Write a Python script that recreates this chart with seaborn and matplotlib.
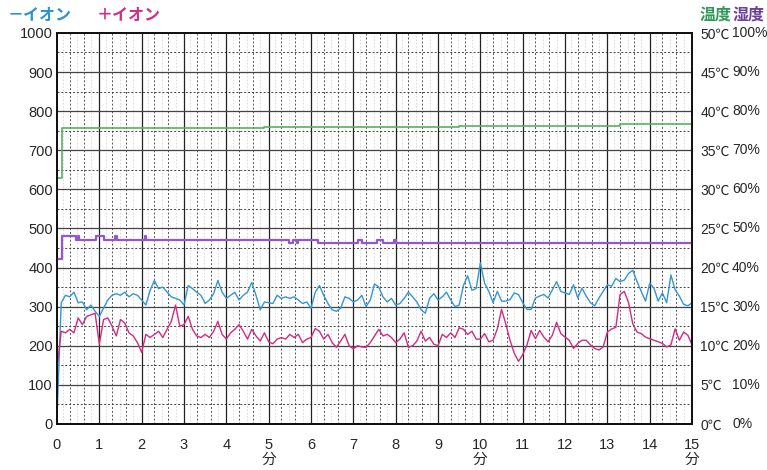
import numpy as np
import pandas as pd
import matplotlib
matplotlib.use("Agg")
import matplotlib.pyplot as plt
import matplotlib.transforms as mtransforms
import seaborn as sns

# ion counts sampled every 0.1 minute (0 .. 15 min)
SAMPLE_STEP = 0.1
minus_ion = [
    15, 310, 329, 325, 337, 310, 312, 292, 304, 288,
    275, 296, 317, 329, 333, 329, 337, 325, 333, 329,
    317, 304, 342, 367, 346, 350, 337, 325, 321, 317,
    304, 354, 346, 337, 329, 308, 317, 333, 367, 337,
    321, 329, 337, 317, 329, 337, 362, 329, 292, 312,
    310, 308, 329, 321, 325, 321, 325, 317, 308, 312,
    296, 337, 354, 329, 308, 292, 288, 296, 325, 321,
    312, 317, 329, 300, 317, 358, 350, 325, 312, 321,
    304, 308, 321, 337, 325, 312, 292, 283, 321, 333,
    317, 325, 337, 317, 300, 304, 354, 379, 342, 346,
    412, 360, 339, 310, 339, 314, 314, 318, 335, 331,
    310, 293, 293, 322, 327, 331, 322, 343, 364, 339,
    335, 331, 356, 322, 347, 327, 310, 302, 322, 339,
    356, 352, 372, 364, 368, 385, 393, 364, 339, 314,
    360, 347, 314, 335, 310, 381, 343, 327, 306, 302,
    310,
]
plus_ion = [
    140, 237, 233, 242, 233, 271, 254, 275, 279, 283,
    204, 267, 271, 250, 225, 267, 258, 233, 225, 208,
    183, 229, 221, 229, 237, 221, 242, 262, 304, 250,
    254, 275, 242, 225, 221, 229, 221, 237, 262, 229,
    217, 233, 242, 254, 237, 217, 242, 225, 212, 233,
    210, 205, 217, 221, 217, 229, 221, 229, 208, 217,
    221, 244, 237, 217, 229, 208, 196, 212, 229, 200,
    192, 200, 197, 196, 208, 225, 242, 225, 229, 221,
    208, 217, 233, 196, 200, 212, 237, 212, 221, 204,
    200, 229, 221, 233, 221, 246, 242, 229, 237, 217,
    217, 231, 210, 214, 243, 293, 256, 214, 181, 160,
    177, 202, 239, 218, 239, 222, 210, 227, 260, 231,
    222, 214, 193, 206, 214, 214, 202, 193, 189, 197,
    235, 243, 247, 331, 339, 310, 256, 235, 231, 222,
    218, 214, 210, 206, 197, 202, 243, 214, 235, 227,
    202,
]

# temperature (deg C) and humidity (%) change points
temp_min = [0.0, 0.12, 4.9, 9.5, 13.3, 15.0]
temp_c = [31.4, 37.9, 38.0, 38.1, 38.3, 38.3]
hum_min = [0.0, 0.12, 0.45, 0.50, 0.53, 0.93, 1.10, 1.38, 1.41, 2.08, 2.11,
           5.49, 5.57, 5.66, 5.69, 6.17, 7.10, 7.20, 7.56, 7.70, 7.95, 8.00, 15.0]
hum_pct = [42.1, 48.0, 47.1, 48.0, 47.1, 48.0, 47.1, 48.0, 47.1, 48.0, 47.1,
           46.2, 47.1, 46.2, 47.1, 46.2, 47.1, 46.2, 47.1, 46.2, 47.1, 46.2, 46.2]

ion_ticks = list(range(0, 1001, 100))
temp_ticks = list(range(0, 51, 5))
minute_ticks = list(range(0, 16))
minute_labels = [f"{m}\n分" if m in (5, 10, 15) else str(m) for m in minute_ticks]

c_minus = "#3497cf"
c_plus = "#cf2c82"
c_temp = "#58b161"
c_hum = "#9457cf"

sns.set_style("white")
plt.rcParams["font.family"] = ["Liberation Sans", "Noto Sans CJK JP"]

ions = pd.DataFrame({
    "minute": np.arange(len(minus_ion)) * SAMPLE_STEP,
    "minus": minus_ion,
    "plus": plus_ion,
})
temp = pd.DataFrame({"minute": temp_min, "temp": temp_c})
hum = pd.DataFrame({"minute": hum_min, "hum": hum_pct})

fig = plt.figure(figsize=(7.67, 4.70), dpi=100)
ax = fig.add_axes([0.0743, 0.098, 0.828, 0.832])
ax2 = ax.twinx()
ax3 = ax.twinx()

ax.set_xlim(0, 15)
ax.set_ylim(0, 1000)
ax2.set_ylim(0, 50)
ax3.set_ylim(0, 100)

# background grid
for m in np.arange(0, 15, 1.0):
    for off in (0.15, 0.48, 0.8):
        ax.axvline(m + off, color="#d6d6d6", lw=0.6, ls=(0, (2, 2)), zorder=0.3)
    for off in (0.3, 0.63):
        ax.axvline(m + off, color="#555555", lw=0.7, ls=(0, (2, 2)), zorder=0.4)
for m in range(1, 15):
    ax.axvline(m, color="#222222", lw=0.9, zorder=0.5)
for v in range(50, 1000, 100):
    ax.axhline(v, color="#444444", lw=0.7, ls=(0, (2, 2)), zorder=0.4)
for v in range(100, 1000, 100):
    ax.axhline(v, color="#444444", lw=0.9, zorder=0.5)

sns.lineplot(data=ions, x="minute", y="minus", ax=ax, color=c_minus, lw=1.0)
sns.lineplot(data=ions, x="minute", y="plus", ax=ax, color=c_plus, lw=1.0)
sns.lineplot(data=temp, x="minute", y="temp", ax=ax2, color=c_temp, lw=1.2,
             drawstyle="steps-post")
sns.lineplot(data=hum, x="minute", y="hum", ax=ax3, color=c_hum, lw=1.6,
             drawstyle="steps-post")

ax.set_xticks(minute_ticks)
ax.set_xticklabels(minute_labels, fontsize=10.5, linespacing=1.05)
ax.set_yticks(ion_ticks)
ax.set_yticklabels([str(v) for v in ion_ticks], fontsize=10.5)
ax.tick_params(axis="both", length=0)
ax.tick_params(axis="x", pad=10)
ax.tick_params(axis="y", pad=3)
ax.set_xlabel("")
ax.set_ylabel("")

ax2.set_yticks(temp_ticks)
ax2.set_yticklabels([f"{v}℃" for v in temp_ticks], fontsize=10)
ax2.tick_params(axis="y", length=0, pad=6)
ax2.set_ylabel("")
trans = mtransforms.blended_transform_factory(ax2.transAxes, ax2.transData)
for v in temp_ticks:
    ax2.text(1.063, v, f"{v * 2}%", transform=trans, ha="left", va="center",
             fontsize=10)

ax3.set_yticks([])
ax3.set_ylabel("")
for a in (ax, ax2, ax3):
    for s in a.spines.values():
        s.set_color("#111111")
        s.set_linewidth(1.2)

fig.text(8 / 767, 1 - 15 / 470, "－イオン", color="#2b93d1", fontsize=11.5,
         fontweight="bold", va="center", ha="left")
fig.text(97 / 767, 1 - 15 / 470, "＋イオン", color="#d52c83", fontsize=11.5,
         fontweight="bold", va="center", ha="left")
fig.text(700 / 767, 1 - 15 / 470, "温度", color="#2f9a58", fontsize=11.5,
         fontweight="bold", va="center", ha="left")
fig.text(733 / 767, 1 - 15 / 470, "湿度", color="#6b3f9e", fontsize=11.5,
         fontweight="bold", va="center", ha="left")

fig.savefig("out.png", dpi=100)
